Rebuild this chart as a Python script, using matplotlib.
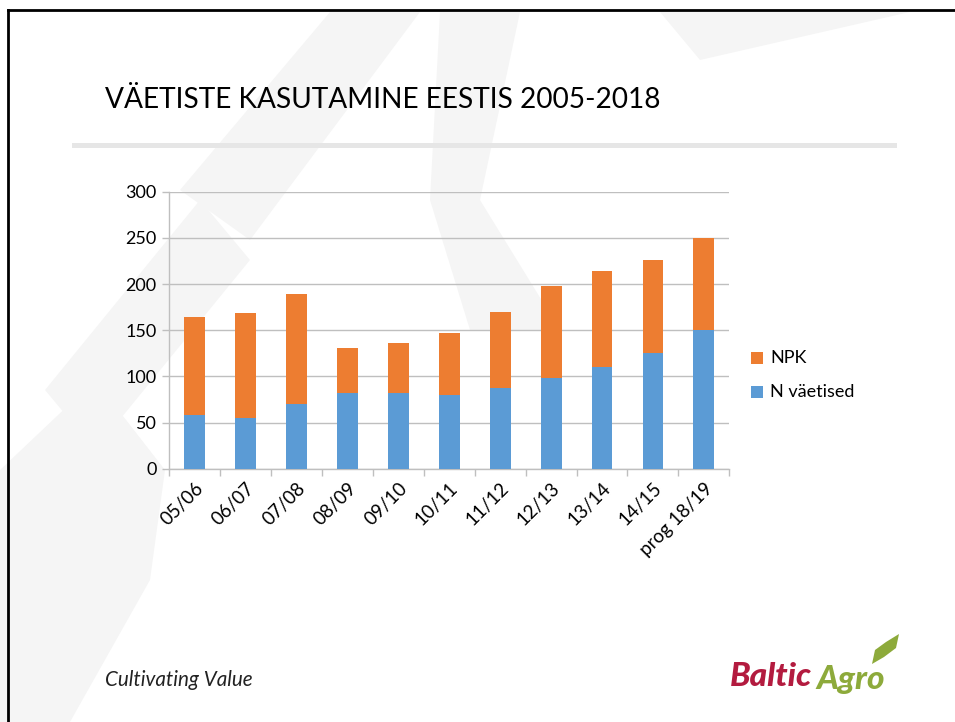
import matplotlib
matplotlib.use("Agg")
import matplotlib.pyplot as plt
from matplotlib.patches import Polygon, Rectangle
from matplotlib.lines import Line2D
import numpy as np

categories = ["05/06", "06/07", "07/08", "08/09", "09/10", "10/11",
              "11/12", "12/13", "13/14", "14/15", "prog 18/19"]
n_vaetised = [58, 55, 70, 82, 82, 80, 87, 98, 110, 125, 150]
npk = [106, 114, 119, 49, 54, 67, 83, 100, 104, 101, 100]
yticks = [0, 50, 100, 150, 200, 250, 300]

ORANGE = "#ED7D31"
BLUE = "#5B9BD5"
GRID = "#BFBFBF"
FONT = ["Lato", "DejaVu Sans"]

W, H = 955, 722
fig = plt.figure(figsize=(W / 100, H / 100), dpi=100)
fig.patch.set_facecolor("white")

def fx(px):
    return px / W

def fy(py):
    return 1 - py / H

# faint watermark shapes (behind everything)
wm = "#F5F5F5"
shapes = [
    [(0, 470), (95, 380), (165, 470), (150, 580), (70, 722), (0, 722)],
    [(45, 390), (200, 200), (250, 260), (95, 450)],
    [(180, 190), (330, 12), (420, 12), (250, 240)],
    [(440, 12), (520, 12), (480, 200), (560, 330), (470, 330), (430, 200)],
    [(660, 12), (910, 12), (700, 60)],
]
for s in shapes:
    fig.patches.append(Polygon([(fx(x), fy(y)) for x, y in s], closed=True,
                               transform=fig.transFigure, facecolor=wm,
                               edgecolor="none", zorder=-2))

# slide border (top and left)
fig.add_artist(Line2D([fx(8), 1], [fy(10), fy(10)], color="black", lw=2,
                      transform=fig.transFigure))
fig.add_artist(Line2D([fx(8), fx(8)], [fy(10), 0], color="black", lw=2,
                      transform=fig.transFigure))

# title and rule
fig.text(fx(105), fy(100), "VÄETISTE KASUTAMINE EESTIS 2005-2018",
         fontsize=20.2, family=FONT, va="center", ha="left", color="black")
fig.patches.append(Rectangle((fx(72), fy(148)), fx(897) - fx(72), fy(143) - fy(148),
                             transform=fig.transFigure, facecolor="#E6E6E6",
                             edgecolor="none", zorder=-1))

# chart
left, right, top, bottom = 169.3, 729.3, 191.7, 468.7
ax = fig.add_axes([fx(left), fy(bottom), fx(right) - fx(left), fy(top) - fy(bottom)])
ax.patch.set_alpha(0)
x = np.arange(len(categories))
bw = 0.41
ax.bar(x, n_vaetised, bw, color=BLUE, label="N väetised", zorder=3)
ax.bar(x, npk, bw, bottom=n_vaetised, color=ORANGE, label="NPK", zorder=3)

ax.set_xlim(-0.5, len(categories) - 0.5)
ax.set_ylim(0, 300)
ax.set_yticks(yticks)
ax.set_yticklabels([str(v) for v in yticks], family=FONT, fontsize=13)
ax.yaxis.grid(True, color=GRID, lw=1, zorder=0)
ax.set_xticks(x)
ax.set_xticklabels(categories, rotation=45, ha="right", rotation_mode="anchor",
                   family=FONT, fontsize=13.5)
ax.tick_params(axis="x", which="major", length=0, pad=8)
ax.set_xticks(np.arange(-0.5, len(categories), 1.0), minor=True)
ax.tick_params(axis="x", which="minor", length=5, color=GRID, width=1)
ax.tick_params(axis="y", length=5, color=GRID, width=1, pad=4)
for s in ["top", "right"]:
    ax.spines[s].set_visible(False)
for s in ["left", "bottom"]:
    ax.spines[s].set_color(GRID)
    ax.spines[s].set_linewidth(1)

# legend
lx = 757
for yy, col, lab in [(358, ORANGE, "NPK"), (392, BLUE, "N väetised")]:
    fig.patches.append(Rectangle((fx(lx - 6), fy(yy + 6)), fx(12), 12 / H,
                                 transform=fig.transFigure, facecolor=col,
                                 edgecolor="none"))
    fig.text(fx(lx + 13), fy(yy), lab, fontsize=13, family=FONT,
             va="center", ha="left")

# footer
fig.text(fx(105), fy(680), "Cultivating Value", fontsize=14.9, style="italic",
         family=FONT, va="center", ha="left", color="#222222")
t1 = fig.text(fx(730), fy(677), "Baltic", fontsize=24, weight="black", style="italic",
              family=FONT, va="center", ha="left", color="#B31B3F")
fig.canvas.draw()
bb = t1.get_window_extent()
fig.text(bb.x1 / W + fx(4), fy(679), "Agro", fontsize=24, weight="black", style="italic",
         family=FONT, va="center", ha="left", color="#8DAA3B")
# leaf
fig.patches.append(Polygon([(fx(x0), fy(y0)) for x0, y0 in
                            [(872, 664), (875, 650), (886, 642), (899, 634),
                             (896, 648), (884, 657)]],
                           closed=True, transform=fig.transFigure,
                           facecolor="#8DAA3B", edgecolor="none"))

fig.savefig("out.png", dpi=100)
